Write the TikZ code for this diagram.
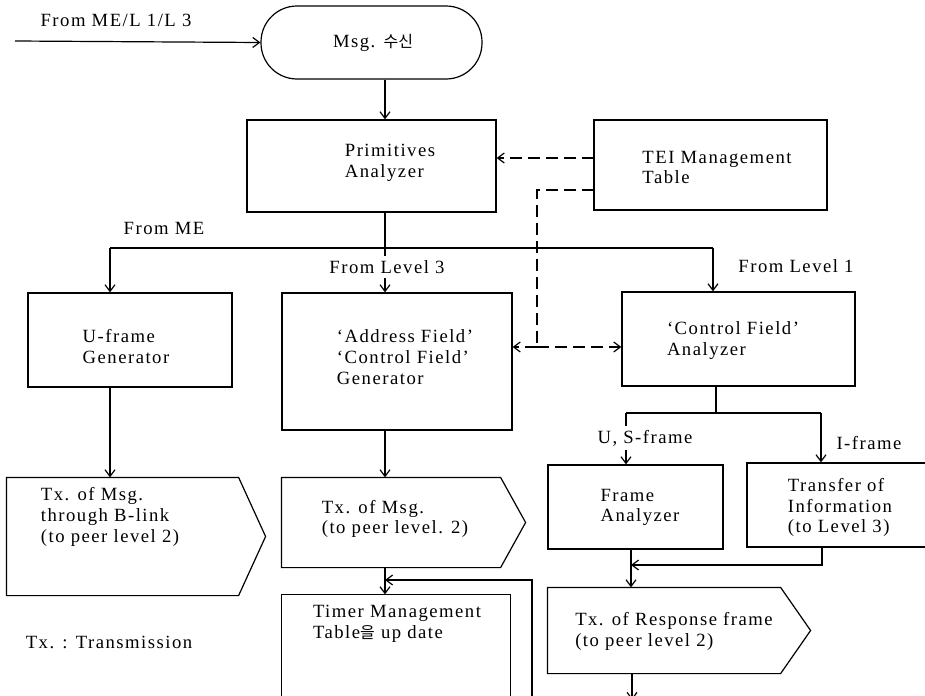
\documentclass[tikz,border=0pt]{standalone}
\usepackage{fontspec}
\setmainfont{Liberation Serif}[LetterSpace=8]
\newfontfamily\kr{Noto Sans CJK KR}
\usetikzlibrary{arrows.meta}
\tikzset{
  base/.style={line width=0.9pt},
  arr/.style={-{Straight Barb[length=5pt,width=7.5pt,line width=0.9pt]}},
  dsh/.style={dash pattern=on 9pt off 4.5pt},
  box/.style={draw, rectangle, inner sep=0pt},
  shell/.style={rectangle, inner sep=0pt},
  sz/.style 2 args={minimum width=#1*0.75pt, minimum height=#2*0.75pt},
  txt/.style={align=left, inner sep=0pt, font=\fontsize{14}{15.5}\selectfont},
  lbl/.style={inner sep=1pt, font=\fontsize{14}{15.5}\selectfont},
}
\begin{document}
\begin{tikzpicture}[x=0.75pt, y=-0.75pt, base]
\clip (0,0) rectangle (925,696);
\fill[white] (0,0) rectangle (925,696);

% ---- shapes ----
\node[draw, rounded corners=27pt, inner sep=0pt, sz={221}{73}] (term) at (371.5,42.5) {};
\node[txt] (termt) at (373,43) {Msg. {\kr\fontsize{12}{14}\selectfont 수신}};

\node[box, sz={249}{92}] (prim) at (371.5,166) {};
\node[txt] (primt) at (390,162.5) {Primitives\\Analyzer};

\node[box, sz={233}{90}] (tei) at (710.5,165) {};
\node[txt] (teit) at (717,167.5) {TEI Management\\Table};

\node[box, sz={204}{94}] (uframe) at (130,340) {};
\node[txt] (uframet) at (126,346.5) {U-frame\\Generator};

\node[box, sz={230}{137}] (addr) at (397,361.5) {};
\node[txt] (addrt) at (405,357) {`Address Field'\\`Control Field'\\Generator};

\node[box, sz={233}{94}] (cf) at (738.5,339) {};
\node[txt] (cft) at (733,340.5) {`Control Field'\\Analyzer};

\node[shell, sz={231}{117}] (blink) at (122.5,536.5) {};
\draw (blink.north west) -- (blink.north east) -- ([xshift=20.25pt]blink.east) -- (blink.south east) -- (blink.south west) -- cycle;
\node[txt] (blinkt) at (110,517) {Tx. of Msg.\\through B-link\\(to peer level 2)};

\node[shell, sz={218}{89}] (txmsg) at (391,522.5) {};
\draw (txmsg.north west) -- (txmsg.north east) -- ([xshift=18.75pt]txmsg.east) -- (txmsg.south east) -- (txmsg.south west) -- cycle;
\node[txt] (txmsgt) at (395,519) {Tx. of Msg.\\(to peer level. 2)};

\node[shell, sz={228}{60}] (timer) at (396,625) {};
\draw ([yshift=-60pt]timer.south west) -- (timer.north west) -- (timer.north east) -- ([yshift=-60pt]timer.south east);
\node[txt] (timert) at (397,623.5) {Timer Management\\Table{\kr\fontsize{12}{14}\selectfont 을} up date};

\node[box, sz={175}{84}] (fa) at (635.5,507) {};
\node[txt] (fat) at (640,507.5) {Frame\\Analyzer};

\node[box, sz={198}{84}] (tr) at (846,505) {};
\node[txt] (trt) at (840,507.5) {Transfer of\\Information\\(to Level 3)};

\node[shell, sz={232}{85}] (txresp) at (664,630.5) {};
\draw (txresp.north west) -- (txresp.north east) -- ([xshift=22.5pt]txresp.east) -- (txresp.south east) -- (txresp.south west) -- cycle;
\node[txt] (txrespt) at (674,631.5) {Tx. of Response frame\\(to peer level 2)};

% ---- coordinates ----
\coordinate (in) at (15,41);
\coordinate (brj) at (385,248);
\coordinate (bl) at (110,248);
\coordinate (br) at (713,248);
\coordinate (d1) at (594,158);
\coordinate (d2) at (594,190);
\coordinate (d2c) at (537,190);
\coordinate (dj) at (537,347);
\coordinate (cj) at (716,413);
\coordinate (cl) at (626,413);
\coordinate (cr) at (821,413);
\coordinate (trb) at (822,565);
\coordinate (mrg) at (631,565);
\coordinate (loopb) at (532,700);
\coordinate (loopt) at (385,580);
\coordinate (outb) at (632,700);

% ---- connectors ----
\draw[arr] (in) -- (term.west);
\draw[arr] (term.south -| brj) -- (prim.north -| brj);
\draw (prim.south -| brj) -- (brj);
\draw (bl) -- (br);
\draw[arr] (bl) -- (bl |- uframe.north);
\draw[arr] (brj) -- (brj |- addr.north);
\draw[arr] (br) -- (br |- cf.north);

\draw[arr, dsh] (d1) -- (d1 -| prim.east);
\draw[dsh] (d2) -- (d2c) -- (dj);
\draw[arr, dsh] (dj) -- (dj -| addr.east);
\draw[arr, dsh] (dj) -- (dj -| cf.west);

\draw[arr] (bl |- uframe.south) -- (bl |- blink.north);
\draw[arr] (brj |- addr.south) -- (brj |- txmsg.north);
\draw[arr] (brj |- txmsg.south) -- (brj |- timer.north);
\draw[arr] (loopb) |- (loopt);

\draw (cf.south -| cj) -- (cj);
\draw (cl) -- (cr);
\draw[arr] (cl) -- (cl |- fa.north);
\draw[arr] (cr) -- (cr |- tr.north);
\draw[arr] (mrg |- fa.south) -- (mrg |- txresp.north);
\draw[arr] (trb |- tr.south) -- (trb) -- (mrg);
\draw[arr] (outb |- txresp.south) -- (outb);

% ---- labels ----
\node[lbl] (l0) at (116,20) {From ME/L 1/L 3};
\node[lbl] (l1) at (164,228) {From ME};
\node[lbl, fill=white, inner ysep=3pt] (l2) at (387,267) {From Level 3};
\node[lbl] (l3) at (796,266) {From Level 1};
\node[lbl, fill=white, inner ysep=3pt] (l4) at (645,438) {U, S-frame};
\node[lbl] (l5) at (869,443) {I-frame};
\node[lbl] (l6) at (109,642) {Tx. : Transmission};
\end{tikzpicture}
\end{document}
